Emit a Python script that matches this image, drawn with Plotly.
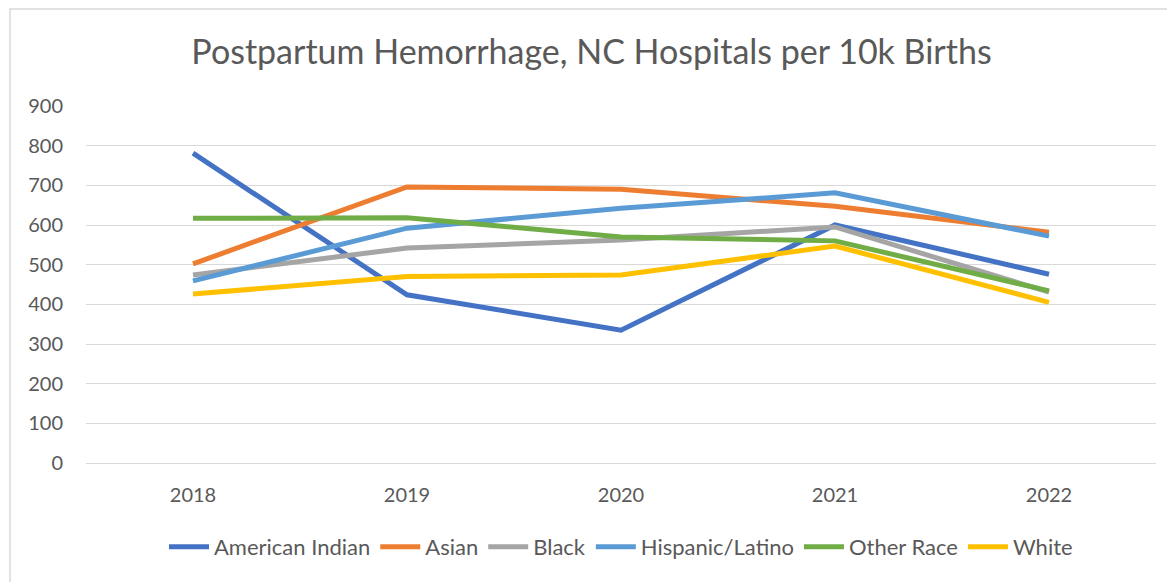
import plotly.graph_objects as go

years = ["2018", "2019", "2020", "2021", "2022"]
american_indian = [781, 424, 335, 600, 476]
asian = [502, 696, 690, 647, 582]
black = [474, 542, 562, 595, 431]
hispanic = [459, 592, 642, 681, 572]
other_race = [617, 618, 570, 560, 434]
white = [426, 470, 474, 547, 405]

series = [
    ("American Indian", american_indian, "#4472C4"),
    ("Asian", asian, "#ED7D31"),
    ("Black", black, "#A5A5A5"),
    ("Hispanic/Latino", hispanic, "#5B9BD5"),
    ("Other Race", other_race, "#70AD47"),
    ("White", white, "#FFC000"),
]

fig = go.Figure()
for name, vals, color in series:
    fig.add_trace(go.Scatter(
        x=years, y=vals, name=name, mode="lines",
        line=dict(color=color, width=5, shape="linear"),
    ))

fig.update_layout(
    width=1167, height=574,
    paper_bgcolor="white", plot_bgcolor="white",
    margin=dict(l=78, r=19, t=98, b=119),
    font=dict(family="Lato, Noto Sans, sans-serif", color="#595959", size=20),
    title=dict(text="Postpartum Hemorrhage, NC Hospitals per 10k Births",
               x=0.5, xanchor="center", y=0.923, yanchor="middle",
               font=dict(size=34, color="#595959")),
    showlegend=True,
    legend=dict(orientation="h", x=0.5, xanchor="center", y=-0.235, yanchor="middle",
                font=dict(size=22, color="#595959"), itemwidth=40,
                traceorder="normal"),
    xaxis=dict(type="category", range=[-0.5, 4.5], showgrid=False, showline=True,
               linecolor="#D9D9D9", linewidth=1, ticks="",
               tickfont=dict(size=20, color="#595959"), zeroline=False,
               ticklabelstandoff=14),
    yaxis=dict(range=[0, 900], dtick=100, showgrid=True, gridcolor="#D9D9D9",
               gridwidth=1, showline=False, zeroline=False, ticks="",
               tickfont=dict(size=20, color="#595959"), ticklabelstandoff=22),
    shapes=[dict(type="rect", xref="paper", yref="paper",
                 x0=-0.071, x1=1.05, y0=-0.4, y1=1.272,
                 line=dict(color="#D9D9D9", width=1.5), fillcolor="rgba(0,0,0,0)",
                 layer="below")],
)

fig.write_html("out.html")
